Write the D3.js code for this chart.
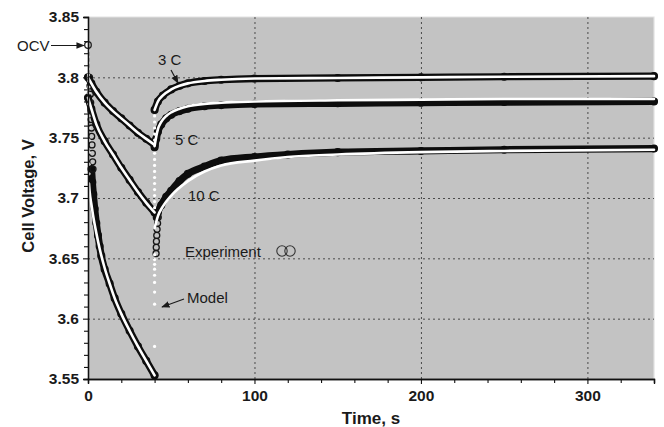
<!DOCTYPE html>
<html>
<head>
<meta charset="utf-8">
<script src="https://cdn.jsdelivr.net/npm/d3@7"></script>
<style>
  html, body { margin: 0; padding: 0; background: #fff; }
  svg { display: block; }
  text { font-family: "Liberation Sans", Arial, sans-serif; fill: #1a1a1a; }
</style>
</head>
<body>
<svg id="chart" width="664" height="427"></svg>
<script>
// Axis ticks
const timeTicks = [0, 100, 200, 300];
const timeMinorTicks = [20, 40, 60, 80, 120, 140, 160, 180, 220, 240, 260, 280, 320, 340];
const voltTicks = [3.55, 3.6, 3.65, 3.7, 3.75, 3.8, 3.85];
const voltLabels = ["3.55", "3.6", "3.65", "3.7", "3.75", "3.8", "3.85"];
const voltMinorTicks = [3.56, 3.57, 3.58, 3.59, 3.61, 3.62, 3.63, 3.64, 3.66, 3.67, 3.68, 3.69,
  3.71, 3.72, 3.73, 3.74, 3.76, 3.77, 3.78, 3.79, 3.81, 3.82, 3.83, 3.84];
const gridTimes = [100, 200, 300];
const gridVolts = [3.6, 3.65, 3.7, 3.75, 3.8];

// Open-circuit voltage before the pulse
const ocv = [[0, 3.8268]];

// Experiment: [time s, voltage V]
const exp3C = [[0, 3.800], [2, 3.795], [5, 3.788], [10, 3.779], [15, 3.772], [20, 3.766], [25, 3.760],
  [30, 3.754], [35, 3.749], [40, 3.744]];
const exp3CRest = [[40, 3.773], [42, 3.780], [45, 3.785], [50, 3.790], [55, 3.793], [60, 3.795],
  [70, 3.797], [80, 3.798], [100, 3.799], [150, 3.7995], [200, 3.800], [250, 3.8005], [340, 3.801]];
const exp5C = [[0, 3.783], [2, 3.774], [5, 3.761], [10, 3.747], [15, 3.736], [20, 3.725], [25, 3.715],
  [30, 3.705], [35, 3.696], [40, 3.688]];
const exp5CRest = [[40, 3.742], [41, 3.749], [42, 3.755], [44, 3.761], [47, 3.766], [50, 3.769],
  [55, 3.772], [60, 3.774], [70, 3.776], [80, 3.777], [100, 3.778], [150, 3.7785], [200, 3.779],
  [250, 3.7795], [340, 3.780]];
// sparse samples right after the current steps
const exp10CStart = [[0, 3.800], [0.3, 3.793], [0.5, 3.786], [0.7, 3.779], [0.9, 3.772], [1.0, 3.765],
  [1.2, 3.758], [1.3, 3.751], [1.5, 3.744], [1.7, 3.737], [1.9, 3.730], [2.1, 3.724]];
const exp10C = [[2.1, 3.724], [2.6, 3.713], [3.2, 3.703], [4, 3.691], [5, 3.679], [6, 3.669], [7, 3.660],
  [8, 3.652], [10, 3.641], [13, 3.629], [16, 3.617], [20, 3.604], [25, 3.590], [30, 3.577],
  [35, 3.565], [40, 3.553]];
const exp10CRestStart = [[40, 3.654], [40.1, 3.659], [40.2, 3.664], [40.4, 3.669], [40.6, 3.674],
  [40.9, 3.679], [41.3, 3.684]];
const exp10CRest = [[41.3, 3.684], [42, 3.688], [44, 3.694], [47, 3.701], [50, 3.706], [55, 3.714],
  [60, 3.720], [70, 3.726], [80, 3.731], [100, 3.734], [120, 3.736], [150, 3.738], [200, 3.739],
  [250, 3.740], [340, 3.741]];

// Model: [time s, voltage V]
const model3C = [[0, 3.800], [2, 3.795], [5, 3.788], [10, 3.779], [15, 3.772], [20, 3.766], [25, 3.760],
  [30, 3.754], [35, 3.749], [40, 3.744]];
const model3CRest = [[40, 3.773], [42, 3.780], [45, 3.785], [50, 3.790], [55, 3.793], [60, 3.795],
  [70, 3.797], [80, 3.798], [100, 3.799], [150, 3.7995], [200, 3.800], [250, 3.8005], [340, 3.801]];
const model5C = [[0, 3.783], [2, 3.774], [5, 3.761], [10, 3.747], [15, 3.736], [20, 3.725], [25, 3.715],
  [30, 3.705], [35, 3.696], [40, 3.688]];
const model5CRest = [[40, 3.743], [41, 3.751], [42, 3.757], [44, 3.763], [47, 3.768], [50, 3.771],
  [55, 3.774], [60, 3.776], [70, 3.778], [80, 3.779], [100, 3.780], [150, 3.781], [200, 3.7815],
  [250, 3.782], [340, 3.782]];
const model10C = [[0.6, 3.712], [1, 3.705], [2, 3.695], [3, 3.686], [5, 3.671], [7, 3.658],
  [10, 3.642], [13, 3.629], [16, 3.617], [20, 3.604], [25, 3.590], [30, 3.577], [35, 3.565], [40, 3.553]];
const model10CRest = [[40, 3.675], [42, 3.685], [45, 3.693], [50, 3.702], [60, 3.714], [70, 3.722],
  [80, 3.727], [100, 3.731], [120, 3.734], [150, 3.736], [200, 3.738], [250, 3.739], [340, 3.740]];
// Model points while the current is switched on and off
const modelSwitching = [
  [0.3, 3.822], [0.3, 3.817], [0.3, 3.812], [0.3, 3.807], [0.3, 3.802], [0.5, 3.797], [0.5, 3.792],
  [0.5, 3.787], [0.5, 3.778], [0.6, 3.768], [0.6, 3.758], [0.6, 3.748], [0.6, 3.738], [0.6, 3.728],
  [0.6, 3.720],
  [40, 3.748], [40, 3.753], [40, 3.758], [40, 3.763], [40, 3.768],
  [40, 3.692], [40, 3.697], [40, 3.702], [40, 3.707], [40, 3.712], [40, 3.717], [40, 3.722],
  [40, 3.727], [40, 3.732], [40, 3.737],
  [40, 3.577], [40, 3.612], [40, 3.622], [40, 3.630], [40, 3.636], [40, 3.641], [40, 3.645],
  [40, 3.649], [40, 3.653]];

const svg = d3.select("#chart");
const x = d3.scaleLinear().domain([0, 340]).range([88, 654]);
const y = d3.scaleLinear().domain([3.55, 3.85]).range([379, 17]);

// Plot background
svg.append("rect")
  .attr("x", x(0)).attr("y", y(3.85))
  .attr("width", x(340) - x(0)).attr("height", y(3.55) - y(3.85))
  .attr("fill", "#c3c3c3");
svg.append("path")
  .attr("d", `M${x(0)},${y(3.85)}H${x(340)}V${y(3.55)}`)
  .attr("fill", "none").attr("stroke", "#e2e2e2").attr("stroke-width", 1.2);

// Dotted grid
const grid = svg.append("g").attr("stroke", "#4a4a4a").attr("stroke-width", 1)
  .attr("stroke-dasharray", "2,3");
grid.selectAll("line.h").data(gridVolts).join("line")
  .attr("x1", x(0)).attr("x2", x(340))
  .attr("y1", d => y(d) + 0.5).attr("y2", d => y(d) + 0.5);
grid.selectAll("line.v").data(gridTimes).join("line")
  .attr("x1", d => x(d) + 0.5).attr("x2", d => x(d) + 0.5)
  .attr("y1", y(3.85)).attr("y2", y(3.55));

const line = d3.line().x(d => x(d[0])).y(d => y(d[1])).curve(d3.curveMonotoneX);

// Experiment: dense open circles merge into a dark band
const expBands = [exp3C, exp3CRest, exp5C, exp5CRest, exp10C, exp10CRest];
const expG = svg.append("g");
expBands.forEach(s => {
  expG.append("path").attr("d", line(s))
    .attr("fill", "none").attr("stroke", "#0d0d0d").attr("stroke-width", 7.2)
    .attr("stroke-linecap", "round").attr("stroke-linejoin", "round");
  expG.selectAll(null).data(s).join("circle")
    .attr("cx", d => x(d[0])).attr("cy", d => y(d[1])).attr("r", 3.4)
    .attr("fill", "none").attr("stroke", "#0d0d0d").attr("stroke-width", 1.3);
});
// Sparse samples stay visible as separate rings
[exp10CStart, exp10CRestStart].forEach(s => {
  expG.selectAll(null).data(s).join("circle")
    .attr("cx", d => x(d[0]) + 1.5).attr("cy", d => y(d[1])).attr("r", 3)
    .attr("fill", "none").attr("stroke", "#151515").attr("stroke-width", 1.3);
});

// Model: white trace
const modelSets = [model3C, model3CRest, model5C, model5CRest, model10C, model10CRest];
const modelG = svg.append("g");
modelSets.forEach(s => {
  modelG.append("path").attr("d", line(s))
    .attr("fill", "none").attr("stroke", "#ffffff").attr("stroke-width", 2.6)
    .attr("stroke-linecap", "round").attr("stroke-linejoin", "round");
});
modelG.selectAll("circle").data(modelSwitching).join("circle")
  .attr("cx", d => x(d[0])).attr("cy", d => y(d[1])).attr("r", 1.6)
  .attr("fill", "#ffffff");

// OCV marker
svg.selectAll("circle.ocv").data(ocv).join("circle").attr("class", "ocv")
  .attr("cx", d => x(d[0])).attr("cy", d => y(d[1])).attr("r", 3.3)
  .attr("fill", "none").attr("stroke", "#222").attr("stroke-width", 1.3);

// Axes
const yAxis = d3.axisLeft(y).tickValues(voltTicks).tickSize(5).tickPadding(4)
  .tickFormat((d, i) => voltLabels[i]);
const yMinor = d3.axisLeft(y).tickValues(voltMinorTicks).tickSize(4).tickFormat("");
const xAxis = d3.axisBottom(x).tickValues(timeTicks).tickSize(5).tickPadding(6)
  .tickFormat(d3.format("d"));
const xMinor = d3.axisBottom(x).tickValues(timeMinorTicks).tickSize(4).tickFormat("");

function styleAxis(g) {
  g.selectAll("path.domain").attr("stroke", "#111").attr("stroke-width", 1.3);
  g.selectAll(".tick line").attr("stroke", "#111").attr("stroke-width", 1.1);
  g.selectAll(".tick text").attr("font-size", 15.5).attr("font-weight", "bold")
    .attr("font-family", "Liberation Sans, Arial, sans-serif").attr("fill", "#1a1a1a");
}
svg.append("g").attr("transform", `translate(${x(0)},0)`).call(yMinor).call(styleAxis);
svg.append("g").attr("transform", `translate(${x(0)},0)`).call(yAxis).call(styleAxis);
svg.append("g").attr("transform", `translate(0,${y(3.55)})`).call(xMinor).call(styleAxis);
svg.append("g").attr("transform", `translate(0,${y(3.55)})`).call(xAxis).call(styleAxis);

// Axis titles
svg.append("text").attr("x", 371).attr("y", 424).attr("text-anchor", "middle")
  .attr("font-size", 17).attr("font-weight", "bold").text("Time, s");
svg.append("text").attr("transform", "translate(34,196) rotate(-90)").attr("text-anchor", "middle")
  .attr("font-size", 16.5).attr("font-weight", "bold").text("Cell Voltage, V");

// Annotations
const defs = svg.append("defs");
defs.append("marker").attr("id", "arrow").attr("viewBox", "0 0 10 10")
  .attr("refX", 9).attr("refY", 5).attr("markerWidth", 7).attr("markerHeight", 7)
  .attr("orient", "auto")
  .append("path").attr("d", "M0,1 L10,5 L0,9 Z").attr("fill", "#1a1a1a");

function label(tx, ty, str) {
  svg.append("text").attr("x", tx).attr("y", ty).attr("font-size", 15).text(str);
}
function arrow(x1, y1, x2, y2) {
  svg.append("line").attr("x1", x1).attr("y1", y1).attr("x2", x2).attr("y2", y2)
    .attr("stroke", "#1a1a1a").attr("stroke-width", 1.2).attr("marker-end", "url(#arrow)");
}
label(17, 51, "OCV");
arrow(51, 45.5, 84, 45.5);
label(158, 65, "3 C");
arrow(171, 70, 178, 83);
label(175, 145, "5 C");
label(188, 201, "10 C");
label(185, 257, "Experiment");
svg.append("circle").attr("cx", 282).attr("cy", 251).attr("r", 5.2)
  .attr("fill", "none").attr("stroke", "#333").attr("stroke-width", 1.1);
svg.append("circle").attr("cx", 290).attr("cy", 251).attr("r", 5.2)
  .attr("fill", "none").attr("stroke", "#333").attr("stroke-width", 1.1);
label(187, 303, "Model");
arrow(184, 299, 162, 307);
</script>
</body>
</html>
